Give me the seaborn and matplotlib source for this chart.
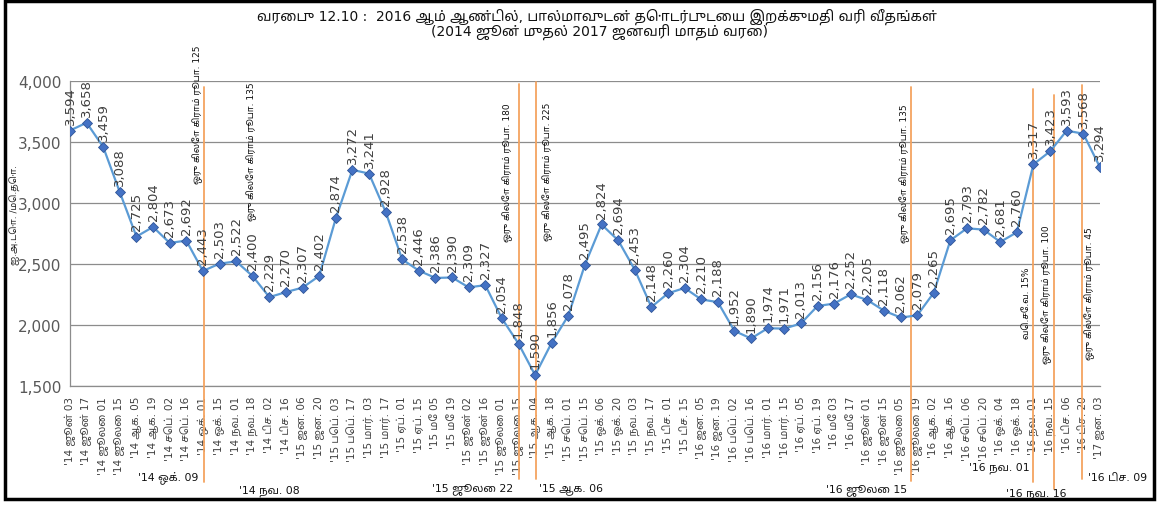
import numpy as np
import pandas as pd
import matplotlib
matplotlib.use("Agg")
import matplotlib.pyplot as plt
import seaborn as sns
from matplotlib import font_manager as fm
from matplotlib.ft2font import FT2Font
from matplotlib.patches import Rectangle
import matplotlib.transforms as mtransforms

# ---------------- data ----------------
dates = [
    "'14 ஜூன் 03", "'14 ஜூன் 17", "'14 ஜூலை 01", "'14 ஜூலை 15", "'14 ஆக. 05", "'14 ஆக. 19",
    "'14 செப். 02", "'14 செப். 16", "'14 ஒக். 01", "'14 ஒக். 15", "'14 நவ. 01", "'14 நவ. 18",
    "'14 டிச. 02", "'14 டிச. 16", "'15 ஜன. 06", "'15 ஜன. 20", "'15 பெப். 03", "'15 பெப். 17",
    "'15 மார். 03", "'15 மார். 17", "'15 ஏப். 01", "'15 ஏப். 15", "'15 மே 05", "'15 மே 19",
    "'15 ஜூன் 02", "'15 ஜூன் 16", "'15 ஜூலை 01", "'15 ஜூலை 15", "'15 ஆக. 04", "'15 ஆக. 18",
    "'15 செப். 01", "'15 செப். 15", "'15 ஒக். 06", "'15 ஒக். 20", "'15 நவ. 03", "'15 நவ. 17",
    "'15 டிச. 01", "'15 டிச. 15", "'16 ஜன. 05", "'16 ஜன. 19", "'16 பெப். 02", "'16 பெப். 16",
    "'16 மார். 01", "'16 மார். 15", "'16 ஏப். 05", "'16 ஏப். 19", "'16 மே 03", "'16 மே 17",
    "'16 ஜூன் 01", "'16 ஜூன் 15", "'16 ஜூலை 05", "'16 ஜூலை 19", "'16 ஆக. 02", "'16 ஆக. 16",
    "'16 செப். 06", "'16 செப். 20", "'16 ஒக். 04", "'16 ஒக். 18", "'16 நவ. 01", "'16 நவ. 15",
    "'16 டிச. 06", "'16 டிச. 20", "'17 ஜன. 03",
]
prices = [
    3594, 3658, 3459, 3088, 2725, 2804, 2673, 2692, 2443, 2503, 2522, 2400,
    2229, 2270, 2307, 2402, 2874, 3272, 3241, 2928, 2538, 2446, 2386, 2390,
    2309, 2327, 2054, 1848, 1590, 1856, 2078, 2495, 2824, 2694, 2453, 2148,
    2260, 2304, 2210, 2188, 1952, 1890, 1974, 1971, 2013, 2156, 2176, 2252,
    2205, 2118, 2062, 2079, 2265, 2695, 2793, 2782, 2681, 2760, 3317, 3423,
    3593, 3568, 3294,
]

# tax-change events: label, position on category axis
event_labels = ["'14 ஒக். 09", "'15 ஜூலை 22", "'15 ஆக. 06", "'16 ஜூலை 15",
                "'16 நவ. 01", "'16 நவ. 16", "'16 டிச. 09"]
event_pos = [8.05, 27.0, 28.06, 50.63, 58.0, 59.24, 60.93]

extra_label = "'14 நவ. 08"
duty_texts = ["ஒரு கிலோ கிராம் ரூபா. 125", "ஒரு கிலோ கிராம் ரூபா. 135",
              "ஒரு கிலோ கிராம் ரூபா. 180", "ஒரு கிலோ கிராம் ரூபா. 225",
              "ஒரு கிலோ கிராம் ரூபா. 135", "வெ.சே.வ. 15%",
              "ஒரு கிலோ கிராம் ரூபா. 100", "ஒரு கிலோ கிராம் ரூபா. 45"]

title1 = "வரைபு 12.10 :  2016 ஆம் ஆண்டில், பால்மாவுடன் தொடர்புடைய இறக்குமதி வரி வீதங்கள்"
title2 = "(2014 ஜூன் முதல் 2017 ஜனவரி மாதம் வரை)"
ylabel = "ஐ.அ.டொ. /மெ.தொ."

# ---------------- fonts ----------------
sns.set_style("white")
cands = []
for f in fm.fontManager.ttflist:
    try:
        if 0x0B95 in FT2Font(f.fname).get_charmap():
            cands.append(f.name)
    except Exception:
        pass

def _rank(n):
    nl = n.lower()
    r = 0
    if "mono" in nl:
        r += 10
    if "serif" in nl and "sans" not in nl:
        r += 3
    if "tamil" in nl:
        r -= 5
    if "sans" in nl:
        r -= 2
    return r

cands = sorted(set(cands), key=_rank)
fams = ["DejaVu Sans"] + cands[:1]
plt.rcParams["font.family"] = fams

df = pd.DataFrame({"i": np.arange(len(prices)), "price": prices})

fig = plt.figure(figsize=(11.59, 5.06), dpi=100)
ax = fig.add_axes([0.0604, 0.235, 0.8886, 0.603])

sns.lineplot(data=df, x="i", y="price", ax=ax, color="#5B9BD5", linewidth=1.6,
             marker="D", markersize=5.5, markerfacecolor="#4472C4",
             markeredgecolor="#2F5597", markeredgewidth=0.6, zorder=4)

ax.set_xlim(0, len(prices) - 1)
ax.set_ylim(1500, 4000)
ax.set_yticks(np.arange(1500, 4001, 500))
ax.yaxis.set_major_formatter(matplotlib.ticker.FuncFormatter(lambda v, p: f"{int(v):,}"))
ax.grid(axis="y", color="#8c8c8c", linewidth=0.9)
ax.set_axisbelow(True)
for s in ["top", "right"]:
    ax.spines[s].set_visible(False)
for s in ["left", "bottom"]:
    ax.spines[s].set_color("#8c8c8c")
    ax.spines[s].set_linewidth(0.9)

ax.set_xticks(df["i"])
ax.set_xticklabels(dates, rotation=90, fontsize=7.5, color="#404040")
ax.tick_params(axis="x", length=4, color="#8c8c8c", pad=3)
ax.tick_params(axis="y", length=4, color="#8c8c8c", labelsize=11, labelcolor="#595959", pad=2)
ax.set_xlabel("")
ax.set_ylabel(ylabel, fontsize=6.5, color="#222222")
ax.yaxis.set_label_coords(-0.0485, 0.564)

# data labels
for i, v in enumerate(prices):
    ax.annotate(f"{v:,}", (i, v), xytext=(0, 5), textcoords="offset points",
                rotation=90, ha="center", va="bottom", fontsize=9.5, color="#404040",
                zorder=5)

# event lines
blend = mtransforms.blended_transform_factory(ax.transData, ax.transAxes)
line_tops = [0.980, 0.990, 0.997, 0.980, 0.974, 0.954, 0.987]
line_bots = [-0.315, -0.305, -0.305, -0.311, -0.315, -0.338, -0.305]
lab_y = [-0.298, -0.334, -0.334, -0.338, -0.266, -0.351, -0.298]
lab_ha = ["right", "right", "left", "right", "right", "right", "left"]
lab_dx = [-0.3, -0.3, 0.2, -0.25, -0.2, 0.75, 0.35]
for lab, x, t, b, ly, ha, dx in zip(event_labels, event_pos, line_tops, line_bots,
                                     lab_y, lab_ha, lab_dx):
    ax.axvline(x, ymin=b, ymax=t, color="#F4A460", linewidth=1.3, clip_on=False, zorder=3)
    ax.text(x + dx, ly, lab, transform=blend, ha=ha, va="center", fontsize=7.8,
            color="#111111", clip_on=False)
ax.text(10.2, -0.341, extra_label, transform=blend, ha="left", va="center",
        fontsize=7.8, color="#111111", clip_on=False)

# duty annotations (vertical)
duty_x = [7.71, 10.96, 26.37, 28.78, 50.27, 57.6, 58.8, 61.4]
duty_top = [1.121, 1.0, 0.931, 0.931, 0.925, 0.393, 0.531, 0.525]
for txt, x, t in zip(duty_texts, duty_x, duty_top):
    ax.text(x, t, txt, transform=blend, rotation=90, ha="center", va="top",
            fontsize=6.5, color="#111111", clip_on=False, zorder=6)

fig.text(0.515, 1 - 17 / 506, title1, ha="center", va="center", fontsize=10, color="#111111")
fig.text(0.517, 1 - 32 / 506, title2, ha="center", va="center", fontsize=10, color="#111111")

fig.patches.append(Rectangle((0.004, 0.012), 0.992, 0.984, transform=fig.transFigure,
                             fill=False, edgecolor="black", linewidth=2.5))

fig.savefig("out.png", dpi=100)
